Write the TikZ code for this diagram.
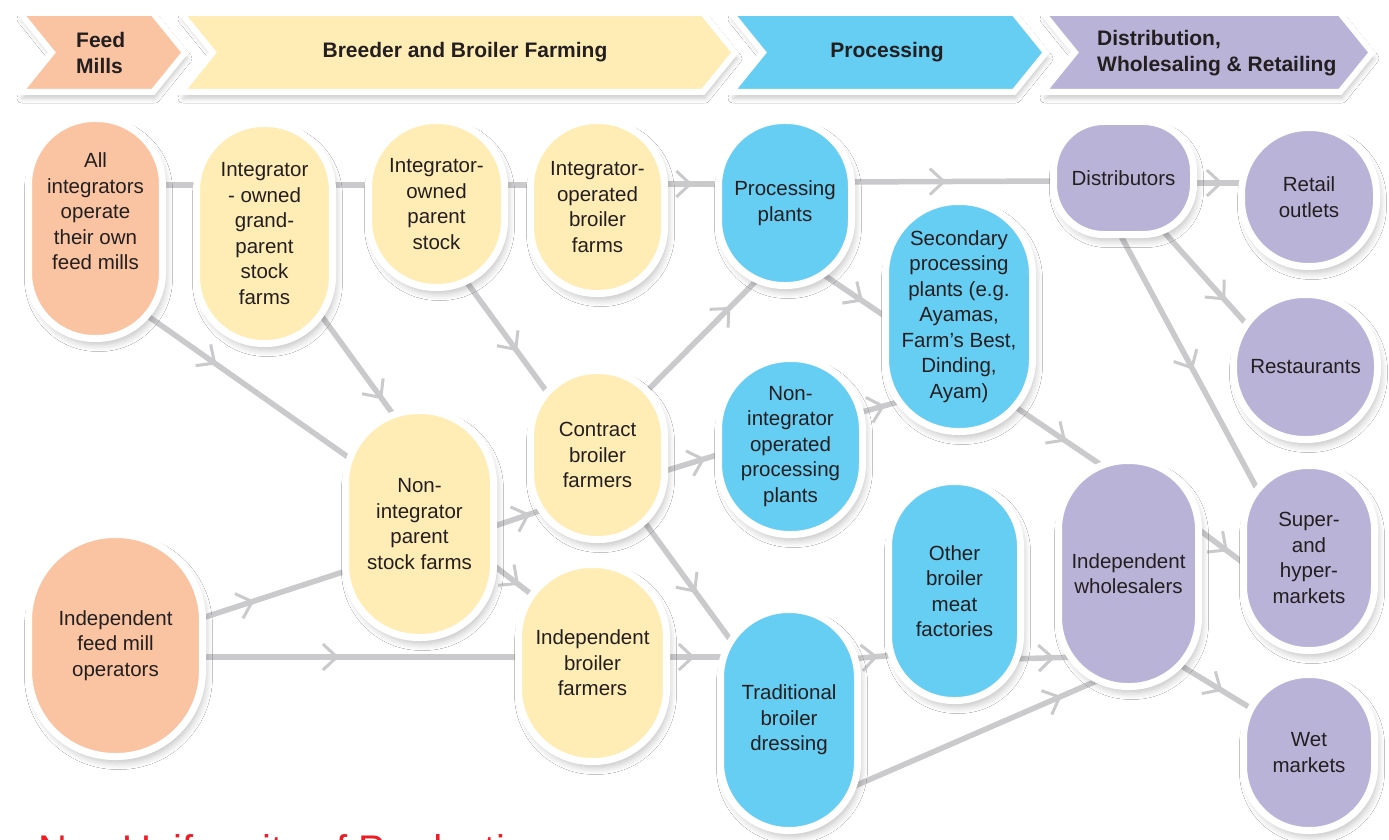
\documentclass[tikz,border=0pt]{standalone}
\usepackage{fontspec}
\setmainfont{Liberation Sans}
\usetikzlibrary{calc,backgrounds,decorations.markings,arrows.meta,shadows.blur}
\definecolor{salmon}{RGB}{250,196,162}
\definecolor{pyellow}{RGB}{255,237,181}
\definecolor{pblue}{RGB}{102,205,243}
\definecolor{ppurple}{RGB}{186,179,216}
\definecolor{lgray}{RGB}{202,202,205}
\definecolor{txt}{RGB}{35,31,32}
\definecolor{redtxt}{RGB}{237,28,36}
\tikzset{
  stad/.style={rectangle, draw=white, line width=7pt, text=txt, align=center,
    font=\fontsize{20.5}{25.5}\selectfont, inner sep=0pt,
    blur shadow={shadow xshift=3pt, shadow yshift=-6pt, shadow blur radius=7pt, shadow opacity=25, shadow blur steps=8}},
  lbl/.style={text=txt, align=center, font=\fontsize{20.5}{25.5}\selectfont, inner sep=0pt},
  chev/.style={draw=white, line width=6pt, line join=miter,
    blur shadow={shadow xshift=2pt, shadow yshift=-6pt, shadow blur radius=5pt, shadow opacity=22, shadow blur steps=6}},
  headtxt/.style={text=txt, font=\fontsize{21}{26}\selectfont\bfseries, inner sep=0pt},
  conn/.style={draw=lgray, line width=5.5pt},
  midarr/.style={postaction={decorate, decoration={markings,
    mark=at position #1 with {\arrow{Straight Barb[length=14pt,width=26pt,line width=3pt]}}}}},
}
\begin{document}
\begin{tikzpicture}[x=1pt,y=-1pt]
\useasboundingbox (0,0) rectangle (1389,840);

% header chevrons
\path[chev, fill=salmon] (20,13) -- (153,13) -- (185,52.5) -- (153,92) -- (20,92) -- (52,52.5) -- cycle;
\path[chev, fill=pyellow] (181,13) -- (703,13) -- (735,52.5) -- (703,92) -- (181,92) -- (213,52.5) -- cycle;
\path[chev, fill=pblue] (731,13) -- (1014,13) -- (1046,52.5) -- (1014,92) -- (731,92) -- (763,52.5) -- cycle;
\path[chev, fill=ppurple] (1043,13) -- (1340,13) -- (1372,52.5) -- (1340,92) -- (1043,92) -- (1075,52.5) -- cycle;
\node[headtxt, align=left, anchor=west] (hfeed) at (76,53) {Feed\\Mills};
\node[headtxt] (hbreed) at (465,52) {Breeder and Broiler Farming};
\node[headtxt] (hproc) at (887,52) {Processing};
\node[headtxt, align=left, anchor=west] (hdist) at (1097,53) {Distribution,\\Wholesaling \& Retailing};

% nodes
\node[stad, fill=salmon, minimum width=134pt, minimum height=220pt, rounded corners=66pt,
  label={[lbl, yshift=17pt]center:{All\\integrators\\operate\\their own\\feed mills}}] (allint) at (95.5,228.5) {};
\node[stad, fill=pyellow, minimum width=136pt, minimum height=220pt, rounded corners=67pt] (gp) at (264.5,233.5) {Integrator\\- owned\\grand-\\parent\\stock\\farms};
\node[stad, fill=pyellow, minimum width=136pt, minimum height=167pt, rounded corners=67pt] (ps) at (436.5,204) {Integrator-\\owned\\parent\\stock};
\node[stad, fill=pyellow, minimum width=134pt, minimum height=173pt, rounded corners=66pt] (io) at (597.5,207) {Integrator-\\operated\\broiler\\farms};
\node[stad, fill=pblue, minimum width=133pt, minimum height=165pt, rounded corners=65.5pt] (pp) at (785,203) {Processing\\plants};
\node[stad, fill=pblue, minimum width=147pt, minimum height=230pt, rounded corners=72.5pt] (sec) at (959,316.5) {Secondary\\processing\\plants (e.g.\\Ayamas,\\Farm’s Best,\\Dinding,\\Ayam)};
\node[stad, fill=ppurple, minimum width=140pt, minimum height=113pt, rounded corners=50pt] (distr) at (1123.5,178) {Distributors};
\node[stad, fill=ppurple, minimum width=135pt, minimum height=139pt, rounded corners=66.5pt] (retail) at (1309,197) {Retail\\outlets};
\node[stad, fill=ppurple, minimum width=144pt, minimum height=145pt, rounded corners=71pt] (rest) at (1305.5,367) {Restaurants};
\node[stad, fill=ppurple, minimum width=131pt, minimum height=185pt, rounded corners=64.5pt] (super) at (1309,558) {Super-\\and\\hyper-\\markets};
\node[stad, fill=ppurple, minimum width=131pt, minimum height=156pt, rounded corners=64.5pt] (wet) at (1309,752.5) {Wet\\markets};
\node[stad, fill=ppurple, minimum width=140pt, minimum height=226pt, rounded corners=69pt] (indwh) at (1128.5,573.5) {Independent\\wholesalers};
\node[stad, fill=pblue, minimum width=132pt, minimum height=219pt, rounded corners=65pt] (other) at (954.5,591) {Other\\broiler\\meat\\factories};
\node[stad, fill=pblue, minimum width=144pt, minimum height=176pt, rounded corners=71pt] (nonip) at (790.5,446.5) {Non-\\integrator\\operated\\processing\\plants};
\node[stad, fill=pblue, minimum width=137pt, minimum height=221pt, rounded corners=68pt] (trad) at (789,720) {Traditional\\broiler\\dressing};
\node[stad, fill=pyellow, minimum width=134pt, minimum height=169pt, rounded corners=66pt] (contract) at (597.5,455) {Contract\\broiler\\farmers};
\node[stad, fill=pyellow, minimum width=148pt, minimum height=197pt, rounded corners=73pt] (indbf) at (592.5,663) {Independent\\broiler\\farmers};
\node[stad, fill=pyellow, minimum width=148pt, minimum height=227pt, rounded corners=73pt] (nonps) at (419.5,524) {Non-\\integrator\\parent\\stock farms};
\node[stad, fill=salmon, minimum width=174pt, minimum height=222pt, rounded corners=86pt] (indfm) at (115.5,645.5) {Independent\\feed mill\\operators};

\node[anchor=base west, text=redtxt, font=\fontsize{40}{48}\selectfont, inner sep=0pt] (redline) at (38,863) {Non Uniformity of Production};

% connectors
\begin{scope}[on background layer]
\fill[white] (0,0) rectangle (1389,840);
\draw[conn] ($(allint)+(54.5,-43.5)$) -- ($(gp)+(-49.5,-48.5)$);
\draw[conn] ($(gp)+(55.5,-48.5)$) -- ($(ps)+(-56.5,-19)$);
\draw[conn] ($(ps)+(58.5,-19)$) -- ($(io)+(-57.5,-22)$);
\draw[conn, midarr=0.5] ($(io)+(57.5,-23)$) -- ($(pp)+(-55,-19)$);
\draw[conn, midarr=0.37] ($(allint)+(39.5,78.5)$) -- ($(nonps)+(-64.5,-62)$);
\draw[conn, midarr=0.82] ($(gp)+(45.5,66.5)$) -- ($(nonps)+(-21.5,-103)$);
\draw[conn, midarr=0.62] ($(ps)+(23.5,69)$) -- ($(contract)+(-45.5,-56)$);
\draw[conn, midarr=0.74] ($(contract)+(42.5,-57)$) -- ($(pp)+(-23,72)$);
\draw[conn, midarr=0.67] ($(contract)+(57.5,19)$) -- ($(nonip)+(-60.5,4.5)$);
\draw[conn, midarr=0.56] ($(contract)+(42.5,61)$) -- ($(trad)+(-49,-67)$);
\draw[conn, midarr=0.77] ($(nonps)+(60.5,7)$) -- ($(contract)+(-52.5,54)$);
\draw[conn, midarr=0.71] ($(nonps)+(60.5,31)$) -- ($(indbf)+(-57.5,-66)$);
\draw[conn, midarr=0.39] ($(indfm)+(74.5,-23.5)$) -- ($(nonps)+(-64.5,44)$);
\draw[conn, midarr=0.43] ($(indfm)+(79.5,11.5)$) -- ($(indbf)+(-62.5,-6)$);
\draw[conn, midarr=0.5] ($(indbf)+(67.5,-6)$) -- ($(trad)+(-59,-63)$);
\draw[conn, midarr=0.62] ($(trad)+(61,-61)$) -- ($(other)+(-59.5,64)$);
\draw[conn, midarr=0.82] ($(trad)+(61,68)$) -- ($(indwh)+(-20.5,102.5)$);
\draw[conn, midarr=0.66] ($(other)+(55.5,68)$) -- ($(indwh)+(-50.5,83.5)$);
\draw[conn, midarr=0.47] ($(pp)+(60,-21)$) -- ($(distr)+(-63.5,3)$);
\draw[conn, midarr=0.6] ($(pp)+(30,66)$) -- ($(sec)+(-64,6.5)$);
\draw[conn, midarr=0.6] ($(nonip)+(64.5,-32.5)$) -- ($(sec)+(-54,83.5)$);
\draw[conn, midarr=0.57] ($(sec)+(49,85.5)$) -- ($(indwh)+(-18.5,-102.5)$);
\draw[conn, midarr=0.55] ($(distr)+(66.5,5)$) -- ($(retail)+(-59,-14)$);
\draw[conn, midarr=0.74] ($(distr)+(31.5,44)$) -- ($(rest)+(-55.5,-39)$);
\draw[conn, midarr=0.53] ($(distr)+(-8.5,47)$) -- ($(super)+(-47,-60)$);
\draw[conn, midarr=0.63] ($(indwh)+(61.5,-50.5)$) -- ($(super)+(-59,10)$);
\draw[conn, midarr=0.57] ($(indwh)+(41.5,85.5)$) -- ($(wet)+(-47,-37.5)$);
\end{scope}
\end{tikzpicture}
\end{document}
